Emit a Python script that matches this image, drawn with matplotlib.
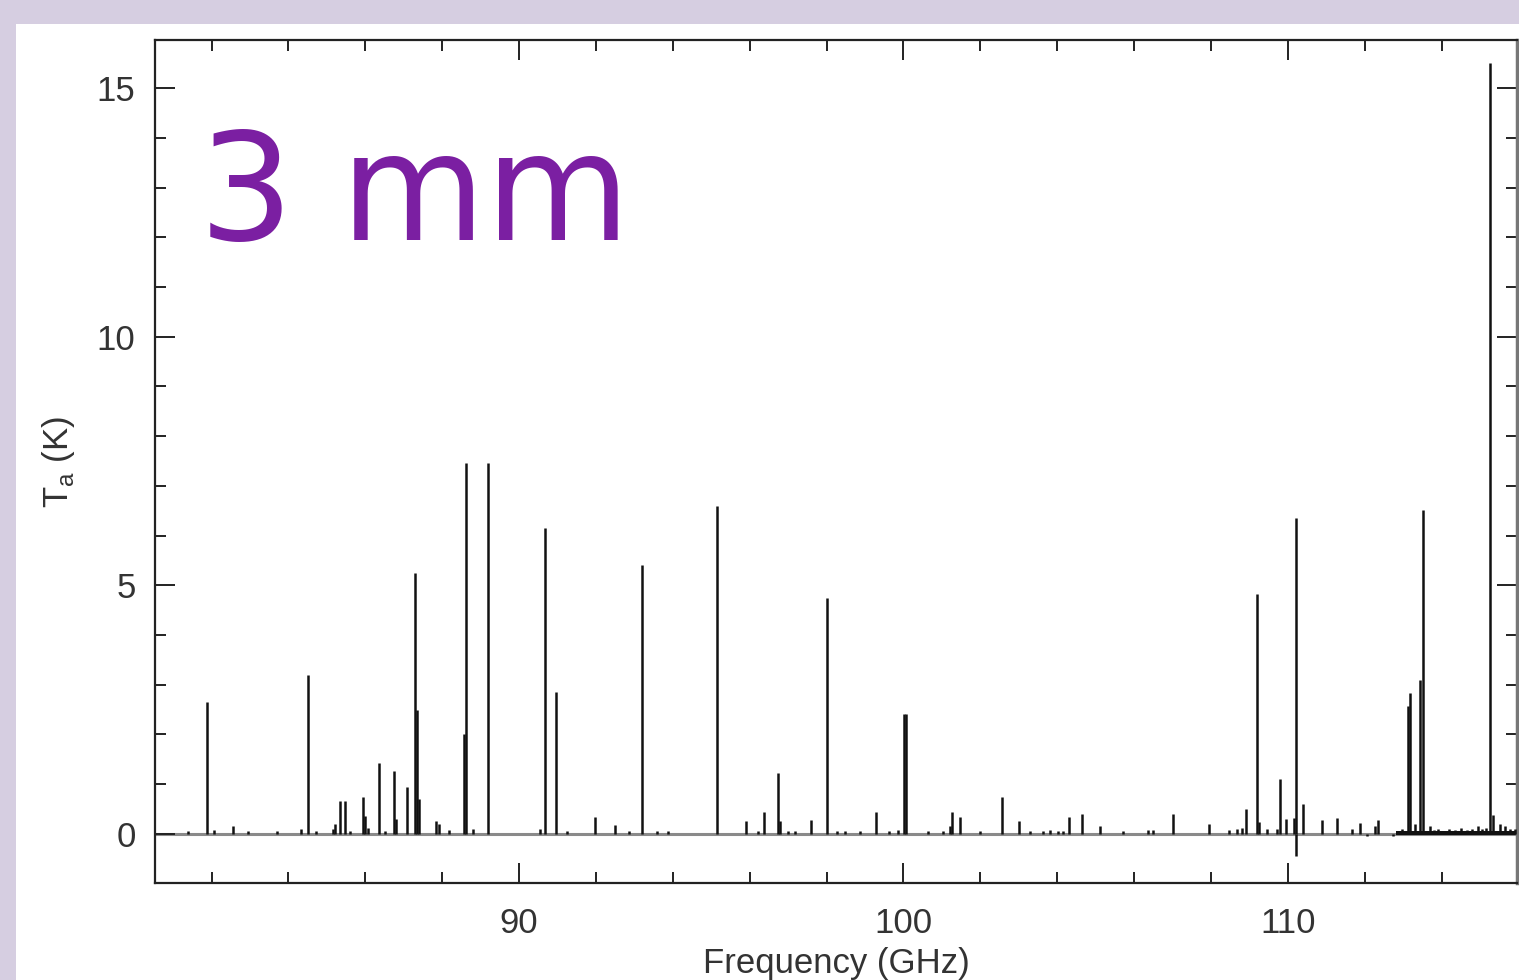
import matplotlib
matplotlib.use("Agg")
import matplotlib.pyplot as plt
from matplotlib.patches import Rectangle
from matplotlib.ticker import MultipleLocator

# ── data: line peaks (GHz, K) ─────────────────────────────────────────────────
freqs = [
    81.39, 81.89, 82.07, 82.56, 82.95, 83.71, 84.33, 84.51, 84.72, 85.16,
    85.21, 85.34, 85.47, 85.60, 85.94, 85.99, 86.07, 86.36, 86.51, 86.75,
    86.80, 87.09, 87.30, 87.35, 87.40, 87.84, 87.92, 88.18, 88.57, 88.62,
    88.80, 89.19, 90.55, 90.68, 90.96, 91.25, 91.98, 92.50, 92.86, 93.20,
    93.59, 93.88, 95.15, 95.90, 96.22, 96.37, 96.74, 96.79, 97.00, 97.18,
    97.59, 98.01, 98.27, 98.48, 98.87, 99.28, 99.62, 99.86, 100.01, 100.07,
    100.64, 101.03, 101.21, 101.26, 101.47, 101.99, 102.56, 103.00, 103.29, 103.63,
    103.81, 104.02, 104.15, 104.30, 104.64, 105.11, 105.71, 106.36, 106.49, 107.01,
    107.95, 108.47, 108.67, 108.80, 108.91, 109.19, 109.25, 109.45, 109.71, 109.79,
    109.95, 110.16, 110.21, 110.39, 110.88, 111.27, 111.66, 111.87, 112.26, 112.34,
    112.97, 113.12, 113.17, 113.30, 113.43, 113.51, 113.69, 113.80, 113.90, 114.05,
    114.20, 114.35, 114.50, 114.65, 114.80, 114.94, 115.05, 115.15, 115.25, 115.33,
    115.51, 115.64, 115.77, 115.90,
]
peaks = [
    0.05, 2.65, 0.08, 0.15, 0.05, 0.05, 0.10, 3.20, 0.05, 0.10,
    0.20, 0.65, 0.65, 0.05, 0.75, 0.35, 0.12, 1.43, 0.05, 1.27,
    0.30, 0.95, 5.25, 2.50, 0.70, 0.25, 0.20, 0.08, 2.00, 7.45,
    0.10, 7.45, 0.10, 6.15, 2.85, 0.05, 0.33, 0.18, 0.05, 5.40,
    0.05, 0.05, 6.60, 0.25, 0.05, 0.44, 1.23, 0.25, 0.05, 0.05,
    0.27, 4.75, 0.05, 0.05, 0.05, 0.44, 0.05, 0.08, 2.40, 2.40,
    0.05, 0.05, 0.15, 0.44, 0.33, 0.05, 0.75, 0.25, 0.05, 0.05,
    0.08, 0.05, 0.05, 0.33, 0.40, 0.15, 0.05, 0.08, 0.08, 0.40,
    0.20, 0.08, 0.10, 0.12, 0.50, 4.83, 0.23, 0.10, 0.10, 1.10,
    0.30, 0.32, 6.35, 0.60, 0.28, 0.32, 0.10, 0.22, 0.15, 0.27,
    0.10, 2.57, 2.84, 0.20, 3.10, 6.51, 0.15, 0.08, 0.10, 0.06,
    0.10, 0.08, 0.12, 0.08, 0.10, 0.15, 0.10, 0.12, 15.50, 0.38,
    0.20, 0.15, 0.10, 0.10,
]
# absorption dips below the baseline
dip_freqs = [110.21, 112.05, 112.73]
dip_depths = [-0.45, -0.05, -0.05]
# dense low-level forest at the high-frequency end
forest_span = (112.8, 116.0)
forest_level = (-0.03, 0.05)

x_major = [90, 100, 110]
y_major = [0, 5, 10, 15]

# ── layout (pixels of a 1519x980 canvas) ──────────────────────────────────────
W, H = 1519, 980
fig = plt.figure(figsize=(W / 100, H / 100), dpi=100)
fig.patch.set_facecolor("#d6cee1")
fig.patches.append(Rectangle((16 / W, 0), 1, (H - 24) / H, transform=fig.transFigure,
                             facecolor="white", edgecolor="none", zorder=-10))

ax = fig.add_axes([155 / W, (H - 883) / H, (1517 - 155) / W, (883 - 40) / H])
ax.set_zorder(1)
ax.set_facecolor("white")

ax.axhline(0, color="#8a8a8a", lw=2.2, zorder=1)
ax.fill_between(forest_span, forest_level[0], forest_level[1], color="#111111",
                lw=0, zorder=2)
ax.vlines(freqs, 0, peaks, color="#111111", lw=1.8, zorder=3)
ax.vlines(dip_freqs, 0, dip_depths, color="#111111", lw=1.8, zorder=3)

ax.set_xlim(80.53, 115.96)
ax.set_ylim(-0.99, 15.97)

ax.set_xticks(x_major)
ax.set_yticks(y_major)
ax.xaxis.set_minor_locator(MultipleLocator(2))
ax.yaxis.set_minor_locator(MultipleLocator(1))
ax.tick_params(which="both", direction="in", top=True, right=True,
               width=1.4, color="#222222")
ax.tick_params(which="major", length=14.5)
ax.tick_params(which="minor", length=8)
ax.tick_params(axis="x", which="major", pad=17)
ax.tick_params(axis="y", which="major", pad=14)

for lab in ax.get_xticklabels() + ax.get_yticklabels():
    lab.set_fontfamily("Liberation Sans")
    lab.set_fontsize(25)
    lab.set_color("#333333")

for sp in ax.spines.values():
    sp.set_linewidth(1.6)
    sp.set_color("#222222")
ax.spines["right"].set_color("#777777")
ax.spines["right"].set_linewidth(2.5)

ax.set_xlabel("Frequency (GHz)", fontsize=25, family="Liberation Sans",
              color="#333333", labelpad=5)
ax.set_ylabel(r"T$_\mathregular{a}$ (K)", fontsize=25, family="Liberation Sans",
              color="#333333", labelpad=14)

ax.text(0.032, 0.763, "3 mm", transform=ax.transAxes, fontsize=107,
        family="DejaVu Sans", color="#7b1fa2", ha="left", va="baseline")

fig.savefig("out.png", dpi=100, facecolor=fig.get_facecolor())
